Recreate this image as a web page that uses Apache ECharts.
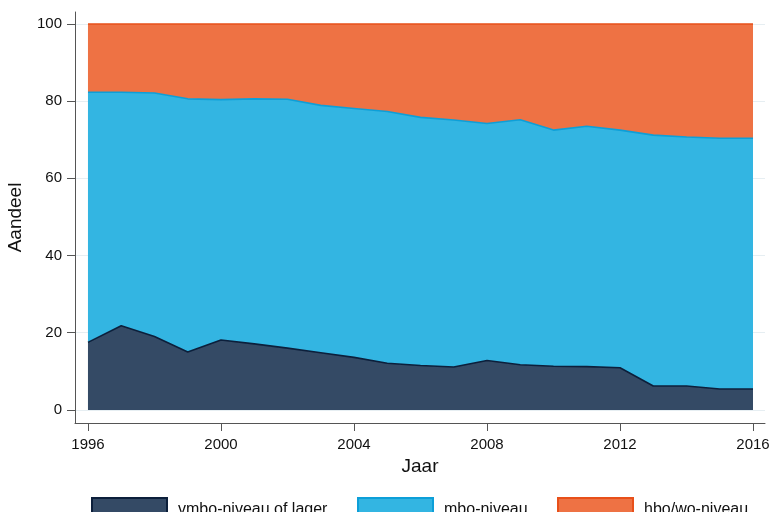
<!DOCTYPE html>
<html>
<head>
<meta charset="utf-8">
<script src="https://cdn.jsdelivr.net/npm/echarts@6/dist/echarts.min.js"></script>
<style>html,body{margin:0;padding:0;background:#fff}#c{width:773px;height:512px}</style>
</head>
<body>
<div id="c"></div>
<script>
const years = [1996,1997,1998,1999,2000,2001,2002,2003,2004,2005,2006,2007,2008,2009,2010,2011,2012,2013,2014,2015,2016];
const vmbo = [17.5,21.8,19.0,15.0,18.1,17.1,16.0,14.8,13.6,12.1,11.5,11.1,12.8,11.7,11.3,11.2,10.9,6.2,6.2,5.4,5.4];
const mbo  = [64.8,60.5,63.1,65.6,62.3,63.5,64.5,64.1,64.5,65.2,64.3,64.0,61.4,63.5,61.2,62.3,61.6,65.0,64.5,65.0,65.0];
const hbo  = [17.7,17.7,17.9,19.4,19.6,19.4,19.5,21.1,21.9,22.7,24.2,24.9,25.8,24.8,27.5,26.5,27.5,28.8,29.3,29.6,29.6];
const xTicks = [1996,2000,2004,2008,2012,2016];
const yTicks = [0,20,40,60,80,100];
const names = ['vmbo-niveau of lager','mbo-niveau','hbo/wo-niveau'];
const fills = ['#344a65','#33b5e2','#ee7244'];
const strokes = ['#0c1f3b','#0d9fd8','#e8501a'];

const font = 'Liberation Sans, Arial, Helvetica, sans-serif';
const chart = echarts.init(document.getElementById('c'));
const seriesData = [vmbo, mbo, hbo];
const legendLeft = [86, 352, 552];

chart.setOption({
  animation: false,
  grid: {left: 75, right: 8, top: 12, bottom: 89, containLabel: false, outerBoundsMode: 'none'},
  legend: names.map((n, i) => ({
    data: [n], left: legendLeft[i], top: 492, itemWidth: 75, itemHeight: 24,
    icon: 'rect', itemGap: 0,
    textStyle: {fontFamily: font, fontSize: 16, color: '#111', padding: [0,0,0,6]},
    itemStyle: {borderColor: strokes[i], borderWidth: 2}
  })),
  xAxis: {
    type: 'value', min: 1995.61, max: 2016.36,
    name: 'Jaar', nameLocation: 'middle', nameGap: 32,
    nameTextStyle: {fontFamily: font, fontSize: 19, color: '#111'},
    axisLine: {show: true, onZero: false, lineStyle: {color: '#555', width: 1}},
    axisTick: {show: true, length: 8, customValues: xTicks, lineStyle: {color: '#555'}},
    axisLabel: {customValues: xTicks, fontFamily: font, fontSize: 15, color: '#111', margin: 14,
      formatter: v => String(v)},
    splitLine: {show: false}
  },
  yAxis: {
    type: 'value', min: -3.4, max: 103.1,
    name: 'Aandeel', nameLocation: 'middle', nameGap: 50,
    nameTextStyle: {fontFamily: font, fontSize: 19, color: '#111'},
    axisLine: {show: true, onZero: false, lineStyle: {color: '#555', width: 1}},
    axisTick: {show: true, length: 8, customValues: yTicks, lineStyle: {color: '#555'}},
    axisLabel: {customValues: yTicks, fontFamily: font, fontSize: 15, color: '#111', margin: 13},
    splitLine: {show: true, lineStyle: {color: '#e6eef2', width: 1}}
  },
  series: names.map((n, i) => ({
    name: n, type: 'line', stack: 'total', symbol: 'none',
    encode: {x: 1, y: 0},
    data: years.map((y, j) => [seriesData[i][j], y]),
    lineStyle: {color: strokes[i], width: 1.6},
    itemStyle: {color: fills[i], borderColor: strokes[i]},
    areaStyle: {color: fills[i], opacity: 1}
  }))
});
</script>
</body>
</html>
